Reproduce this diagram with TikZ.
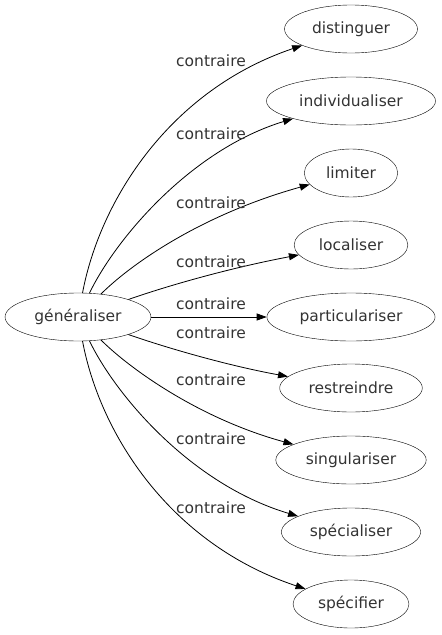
\documentclass[tikz,border=0pt]{standalone}
\usepackage{fontspec}
\setmainfont{DejaVu Sans}
\usetikzlibrary{shapes.geometric,arrows.meta}
\begin{document}
\begin{tikzpicture}[x=1pt,y=-1pt,
  term/.style={draw,ellipse,inner xsep=8pt,inner ysep=0pt,minimum height=48pt,font=\fontsize{15.5}{18}\selectfont,text=black!80},
  lbl/.style={font=\fontsize{15.5}{18}\selectfont,text=black!80,inner sep=0pt},
  rel/.style={-{Triangle[length=10pt,width=7pt]},line width=0.8pt}]
\useasboundingbox (0,0) rectangle (442,635);
\node[term] (g) at (78,317) {généraliser};
\node[term] (t1) at (351,29) {distinguer};
\node[term] (t2) at (351,101) {individualiser};
\node[term] (t3) at (351,173) {limiter};
\node[term] (t4) at (351,245) {localiser};
\node[term] (t5) at (351,317) {particulariser};
\node[term] (t6) at (351,388) {restreindre};
\node[term] (t7) at (351,460) {singulariser};
\node[term] (t8) at (351,532) {spécialiser};
\node[term] (t9) at (351,604) {spécifier};
\draw[rel] (g) .. controls (100,200) and (170,90) .. (t1);
\draw[rel] (g) .. controls (115,240) and (190,150) .. (t2);
\draw[rel] (g) .. controls (130,265) and (200,215) .. (t3);
\draw[rel] (g) .. controls (170,285) and (230,268) .. (t4);
\draw[rel] (g) -- (t5);
\draw[rel] (g) .. controls (170,349) and (230,366) .. (t6);
\draw[rel] (g) .. controls (130,369) and (200,419) .. (t7);
\draw[rel] (g) .. controls (115,394) and (190,484) .. (t8);
\draw[rel] (g) .. controls (100,434) and (170,544) .. (t9);
\node[lbl] (l1) at (211,61) {contraire};
\node[lbl] (l2) at (211,134) {contraire};
\node[lbl] (l3) at (211,203) {contraire};
\node[lbl] (l4) at (211,262) {contraire};
\node[lbl] (l5) at (211,304) {contraire};
\node[lbl] (l6) at (211,333) {contraire};
\node[lbl] (l7) at (211,380) {contraire};
\node[lbl] (l8) at (211,439) {contraire};
\node[lbl] (l9) at (211,508) {contraire};
\end{tikzpicture}
\end{document}
